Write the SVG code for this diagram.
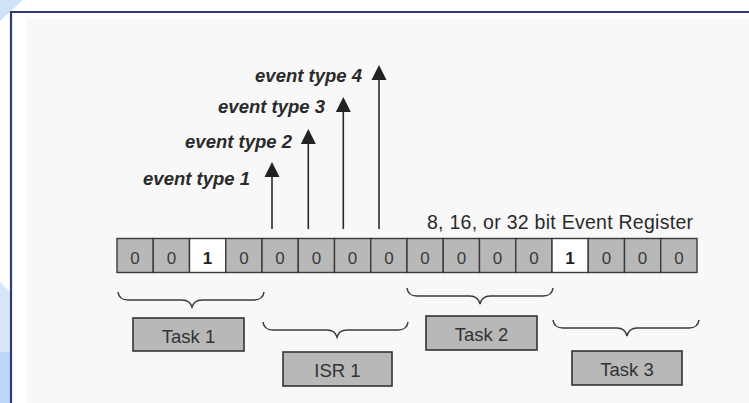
<svg xmlns="http://www.w3.org/2000/svg" width="749" height="403" viewBox="0 0 749 403">
<style>
.cell{fill:#b8b8b8;stroke:#3a3a3a;stroke-width:1.4}
.cellw{fill:#ffffff;stroke:#3a3a3a;stroke-width:1.4}
.dig{font-family:"Liberation Sans",Arial,sans-serif;font-size:17px;fill:#3a3a3a;text-anchor:middle}
.one{font-weight:bold;fill:#222}
.box{fill:#b8b8b8;stroke:#333;stroke-width:1.6}
.boxt{font-family:"Liberation Sans",Arial,sans-serif;font-size:18.5px;fill:#333;text-anchor:middle}
.ev{font-family:"Liberation Sans",Arial,sans-serif;font-size:18.5px;font-weight:bold;font-style:italic;fill:#2a2a2a;text-anchor:end}
.shaft{stroke:#2a2a2a;stroke-width:1.6;fill:none}
.head{fill:#222}
.brace{fill:none;stroke:#3a3a3a;stroke-width:1.5}
</style>
<rect x="0" y="0" width="749" height="403" fill="#ffffff"/>
<polygon points="0,0 23,0 0,21" fill="#cfe3f8"/>
<polygon points="0,282 11,293 11,403 0,403" fill="#d6e7fa"/>
<rect x="0" y="352" width="11" height="51" fill="#bcd6f6"/>
<rect x="27" y="19" width="722" height="384" fill="#f8f8f8"/>
<path d="M11,403 V12 H749" fill="none" stroke="#2e3b78" stroke-width="2.2"/>

<g id="labels">
<text class="ev" x="250" y="185">event type 1</text>
<text class="ev" x="292" y="148">event type 2</text>
<text class="ev" x="325" y="113">event type 3</text>
<text class="ev" x="362" y="82">event type 4</text>
<text x="427" y="229" font-family="Liberation Sans, Arial, sans-serif" font-size="19.5" fill="#2a2a2a" textLength="266">8, 16, or 32 bit Event Register</text>
</g>

<g id="register">
<rect class="cell" x="117" y="238.5" width="36.25" height="34"/>
<rect class="cell" x="153.25" y="238.5" width="36.25" height="34"/>
<rect class="cellw" x="189.5" y="238.5" width="36.25" height="34"/>
<rect class="cell" x="225.75" y="238.5" width="36.25" height="34"/>
<rect class="cell" x="262" y="238.5" width="36.25" height="34"/>
<rect class="cell" x="298.25" y="238.5" width="36.25" height="34"/>
<rect class="cell" x="334.5" y="238.5" width="36.25" height="34"/>
<rect class="cell" x="370.75" y="238.5" width="36.25" height="34"/>
<rect class="cell" x="407" y="238.5" width="36.25" height="34"/>
<rect class="cell" x="443.25" y="238.5" width="36.25" height="34"/>
<rect class="cell" x="479.5" y="238.5" width="36.25" height="34"/>
<rect class="cell" x="515.75" y="238.5" width="36.25" height="34"/>
<rect class="cellw" x="552" y="238.5" width="36.25" height="34"/>
<rect class="cell" x="588.25" y="238.5" width="36.25" height="34"/>
<rect class="cell" x="624.5" y="238.5" width="36.25" height="34"/>
<rect class="cell" x="660.75" y="238.5" width="36.25" height="34"/>
<text class="dig" x="135.1" y="264">0</text>
<text class="dig" x="171.4" y="264">0</text>
<text class="dig one" x="207.6" y="264">1</text>
<text class="dig" x="243.9" y="264">0</text>
<text class="dig" x="280.1" y="264">0</text>
<text class="dig" x="316.4" y="264">0</text>
<text class="dig" x="352.6" y="264">0</text>
<text class="dig" x="388.9" y="264">0</text>
<text class="dig" x="425.1" y="264">0</text>
<text class="dig" x="461.4" y="264">0</text>
<text class="dig" x="497.6" y="264">0</text>
<text class="dig" x="533.9" y="264">0</text>
<text class="dig one" x="570.1" y="264">1</text>
<text class="dig" x="606.4" y="264">0</text>
<text class="dig" x="642.6" y="264">0</text>
<text class="dig" x="678.9" y="264">0</text>
</g>

<g id="task1">
<rect class="box" x="133" y="318" width="111" height="33"/>
<text class="boxt" x="188.5" y="343">Task 1</text>
</g>
<g id="isr1">
<rect class="box" x="283" y="352" width="109" height="34"/>
<text class="boxt" x="337.5" y="377">ISR 1</text>
</g>
<g id="task2">
<rect class="box" x="426" y="316" width="111" height="34"/>
<text class="boxt" x="481.5" y="341">Task 2</text>
</g>
<g id="task3">
<rect class="box" x="572" y="351" width="110" height="34"/>
<text class="boxt" x="627" y="376">Task 3</text>
</g>

<g id="connectors">
<line class="shaft" x1="272" y1="174" x2="272" y2="229"/>
<polygon class="head" points="272,162 264.5,177 279.5,177"/>
<line class="shaft" x1="308.3" y1="141" x2="308.3" y2="229"/>
<polygon class="head" points="308.3,129 300.8,144 315.8,144"/>
<line class="shaft" x1="343.3" y1="109" x2="343.3" y2="229"/>
<polygon class="head" points="343.3,97 335.8,112 350.8,112"/>
<line class="shaft" x1="379" y1="77" x2="379" y2="229"/>
<polygon class="head" points="379,65 371.5,80 386.5,80"/>

<path class="brace" d="M118,292 Q119,300 128,300 H182 Q190,300 192,307 Q194,300 202,300 H254 Q263,300 264,292"/>
<path class="brace" d="M263,322 Q264,330 273,330 H327 Q335,330 337,337 Q339,330 347,330 H398 Q407,330 408,322"/>
<path class="brace" d="M407,288 Q408,296 417,296 H470 Q478,296 480,304 Q482,296 490,296 H543 Q552,296 553,288"/>
<path class="brace" d="M553,320 Q554,328 563,328 H617 Q625,328 627,336 Q629,328 637,328 H689 Q698,328 699,320"/>
</g>
</svg>
